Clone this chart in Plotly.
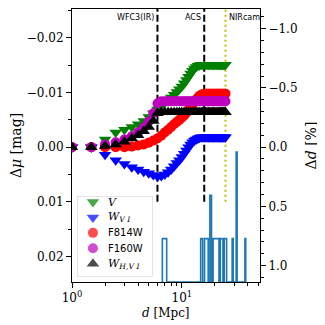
import numpy as np
import plotly.graph_objects as go

# distance grid of the simulated hosts [Mpc]
d_mpc = [1.0, 1.5, 2.0, 2.5, 3.0, 3.5, 4.0, 4.5, 5.0, 5.5, 6.0, 6.5, 7.0, 7.5, 8.0, 8.5,
         9.0, 9.5, 10.0, 10.5, 11.0, 11.5, 12.0, 12.5, 13.0, 13.5, 14.0, 14.5, 15.0, 15.5,
         16.0, 16.5, 17.0, 17.5, 18.0, 18.5, 19.0, 19.5, 20.0, 20.5, 21.0, 21.5, 22.0,
         22.5, 23.0, 23.5, 24.0, 24.5, 25.0]

# distance modulus bias [mag]
dmu_V = [0.0, 0.0, -0.0014, -0.0027, -0.0032, -0.0037, -0.0042, -0.0048, -0.0055, -0.0062,
         -0.0069, -0.0075, -0.0081, -0.0086, -0.0091, -0.0096, -0.0101, -0.0106, -0.0111,
         -0.0117, -0.0123, -0.0129, -0.0135, -0.0140, -0.0144, -0.0147, -0.0149, -0.0150,
         -0.0151, -0.0151, -0.0151, -0.0151, -0.0151, -0.0151, -0.0151, -0.0151, -0.0151,
         -0.0151, -0.0151, -0.0151, -0.0151, -0.0151, -0.0151, -0.0151, -0.0151, -0.0151,
         -0.0151, -0.0151, -0.0151]
dmu_WVI = [0.0, 0.0, 0.0014, 0.0024, 0.0031, 0.0037, 0.0041, 0.0045, 0.0048, 0.0051,
           0.0054, 0.0053, 0.0050, 0.0046, 0.0041, 0.0035, 0.0029, 0.0024, 0.0018, 0.0012,
           0.0006, 0.0000, -0.0005, -0.0009, -0.0012, -0.0014, -0.0016, -0.0017, -0.0018,
           -0.0018, -0.0018, -0.0018, -0.0018, -0.0018, -0.0018, -0.0018, -0.0018, -0.0018,
           -0.0018, -0.0018, -0.0018, -0.0018, -0.0018, -0.0018, -0.0018, -0.0018, -0.0018,
           -0.0018, -0.0018]
dmu_F814W = [0.0, 0.0, 0.0, 0.0, 0.0, -0.0001, -0.0003, -0.0005, -0.0008, -0.0012, -0.0016,
             -0.0021, -0.0027, -0.0032, -0.0037, -0.0042, -0.0046, -0.0050, -0.0054, -0.0058,
             -0.0063, -0.0068, -0.0073, -0.0078, -0.0083, -0.0087, -0.0091, -0.0094, -0.0096,
             -0.0097, -0.0098, -0.0098, -0.0098, -0.0098, -0.0098, -0.0098, -0.0098, -0.0098,
             -0.0098, -0.0098, -0.0098, -0.0098, -0.0098, -0.0098, -0.0098, -0.0098, -0.0098,
             -0.0098, -0.0098]
dmu_F160W = [0.0, 0.0, -0.0005, -0.0009, -0.0014, -0.0020, -0.0027, -0.0036, -0.0047, -0.0062,
             -0.0080, -0.0084, -0.0084, -0.0084, -0.0084, -0.0084, -0.0084, -0.0084, -0.0084,
             -0.0084, -0.0084, -0.0084, -0.0084, -0.0084, -0.0084, -0.0084, -0.0084, -0.0084,
             -0.0084, -0.0084, -0.0084, -0.0084, -0.0084, -0.0084, -0.0084, -0.0084, -0.0084,
             -0.0084, -0.0084, -0.0084, -0.0084, -0.0084, -0.0084, -0.0084, -0.0084, -0.0084,
             -0.0084, -0.0084, -0.0084]
dmu_WHVI = [0.0, 0.0, -0.0002, -0.0005, -0.0010, -0.0016, -0.0022, -0.0029, -0.0037, -0.0048,
            -0.0062, -0.0064, -0.0064, -0.0064, -0.0064, -0.0064, -0.0064, -0.0064, -0.0064,
            -0.0064, -0.0064, -0.0064, -0.0064, -0.0064, -0.0064, -0.0064, -0.0064, -0.0064,
            -0.0064, -0.0064, -0.0064, -0.0064, -0.0064, -0.0064, -0.0064, -0.0064, -0.0064,
            -0.0064, -0.0064, -0.0064, -0.0064, -0.0064, -0.0064, -0.0064, -0.0064, -0.0064,
            -0.0064, -0.0064, -0.0064]

# host galaxy distances for the histogram [Mpc]
host_d = [6.65, 15.2, 16.4, 17.0, 18.3, 18.3, 19.5, 20.2, 20.8, 21.5, 22.7, 23.4,
          24.6, 25.3, 28.9, 31.5, 31.5, 31.5, 38.2]

instr_names = ["WFC3(IR)", "ACS", "NIRcam"]
instr_d = [6.0, 16.0, 25.0]

ylim = [0.0247, -0.0253]
pct = 100 * np.log(10) / 5  # dmu -> dd [%]

sans = "font-family:DejaVu Sans;font-size:10px"
series = [
    (dmu_V, "<i>V</i>", "#008000", "triangle-down"),
    (dmu_WVI, "<i>W</i><sub><i>V I</i></sub>", "#0000ff", "triangle-down"),
    (dmu_F814W, "<span style='%s'>F814W</span>" % sans, "#ff0000", "circle"),
    (dmu_F160W, "<span style='%s'>F160W</span>" % sans, "#bf00bf", "circle"),
    (dmu_WHVI, "<i>W</i><sub><i>H,V I</i></sub>", "#000000", "triangle-up"),
]
msize = {"circle": 10, "triangle-down": 11, "triangle-up": 11}

fig = go.Figure()

for name, dd, col, dash in zip(instr_names, instr_d, ["black", "black", "#bfbf00"],
                               ["7px,3px", "7px,3px", "2px,3px"]):
    fig.add_trace(go.Scatter(x=[dd, dd], y=[0.01, ylim[1]], mode="lines",
                             line=dict(color=col, width=2, dash=dash), showlegend=False))
    left = name == "NIRcam"
    fig.add_annotation(x=np.log10(dd), y=-0.0237, text=name, showarrow=False,
                       xanchor="left" if left else "right", xshift=1 if left else -1,
                       font=dict(family="DejaVu Sans", size=8, color="black"))

for vals, label, col, sym in series:
    fig.add_trace(go.Scatter(x=d_mpc, y=vals, mode="markers", showlegend=False,
                             marker=dict(color=col, symbol=sym, size=msize[sym], line=dict(width=0))))

# invisible trace to carry the right axis
fig.add_trace(go.Scatter(x=[d_mpc[0]], y=[0], yaxis="y2", mode="markers",
                         marker=dict(opacity=0), showlegend=False, hoverinfo="skip"))

counts, edges = np.histogram(host_d, bins=50)
hx = np.concatenate([[edges[0]], edges])
hy = np.concatenate([[0], counts, [0]])
fig.add_trace(go.Scatter(x=hx, y=hy, mode="lines", line=dict(color="#1f77b4", width=1.6, shape="hv"),
                         yaxis="y3", showlegend=False, hoverinfo="skip"))

# legend box, drawn on its own small axis pair
leg_top, leg_bot = -0.39, 4.85
fig.add_trace(go.Scatter(x=[0, 1, 1, 0, 0], y=[leg_top, leg_top, leg_bot, leg_bot, leg_top],
                         xaxis="x2", yaxis="y4", mode="lines", fill="toself",
                         fillcolor="rgba(255,255,255,0.8)", line=dict(color="#cccccc", width=1),
                         showlegend=False, hoverinfo="skip"))
rows = list(range(len(series)))
fig.add_trace(go.Scatter(x=[0.21] * len(series), y=rows, xaxis="x2", yaxis="y4", mode="markers",
                         marker=dict(color=[s[2] for s in series], symbol=[s[3] for s in series],
                                     size=[msize[s[3]] for s in series], line=dict(width=0)),
                         showlegend=False, hoverinfo="skip"))
for r, s in zip(rows, series):
    fig.add_annotation(x=0.38, y=r, xref="x2", yref="y4", text=s[1], showarrow=False,
                       xanchor="left", font=dict(family="DejaVu Serif", size=11, color="black"))

# x axis title as annotation (superscript tick labels push the native title too low)
fig.add_annotation(x=0.5, y=-0.114, xref="paper", yref="paper", text="<i>d</i> [Mpc]",
                   showarrow=False, yanchor="middle",
                   font=dict(family="DejaVu Serif", size=12, color="black"))

axis_common = dict(showgrid=False, zeroline=False, showline=True, linecolor="black", linewidth=1,
                   ticks="outside", ticklen=5, tickwidth=1, tickcolor="black")

# the page body adds an 8px offset, so the margins are shifted to compensate
fig.update_layout(
    width=325, height=325,
    margin=dict(l=64, r=73, t=1, b=51),
    paper_bgcolor="white", plot_bgcolor="rgba(0,0,0,0)",
    font=dict(family="DejaVu Serif", size=12, color="black"),
    showlegend=False,
    xaxis=dict(type="log", range=[0, 1.712], mirror=True,
               tickvals=[1, 10], ticktext=["10<sup>0</sup>", "10<sup>1</sup>"],
               minor=dict(ticks="outside", ticklen=3, tickcolor="black",
                          tickvals=[2, 3, 4, 5, 6, 7, 8, 9, 20, 30, 40, 50]),
               **axis_common),
    yaxis=dict(range=ylim, tickvals=[-0.02, -0.01, 0.0, 0.01, 0.02],
               ticktext=["\u22120.02", "\u22120.01", "0.00", "0.01", "0.02"],
               minor=dict(ticks="outside", ticklen=3, tickcolor="black", dtick=0.005),
               title=dict(text="\u0394<i>\u03bc</i> [mag]", standoff=4), **axis_common),
    yaxis2=dict(overlaying="y", side="right", range=[ylim[0] * pct, ylim[1] * pct],
                tickvals=[-1.0, -0.5, 0.0, 0.5, 1.0],
                ticktext=["\u22121.0", "\u22120.5", "0.0", "0.5", "1.0"],
                minor=dict(ticks="outside", ticklen=3, tickcolor="black", dtick=0.1),
                title=dict(text="\u0394<i>d</i> [%]", standoff=9), **axis_common),
    yaxis3=dict(overlaying="y", range=[0, 6.3], visible=False),
    xaxis2=dict(domain=[0.027, 0.429], anchor="y4", range=[0, 1], visible=False),
    yaxis4=dict(domain=[0.019, 0.315], anchor="x2", range=[leg_bot, leg_top], visible=False),
)

fig.write_html("out.html")
